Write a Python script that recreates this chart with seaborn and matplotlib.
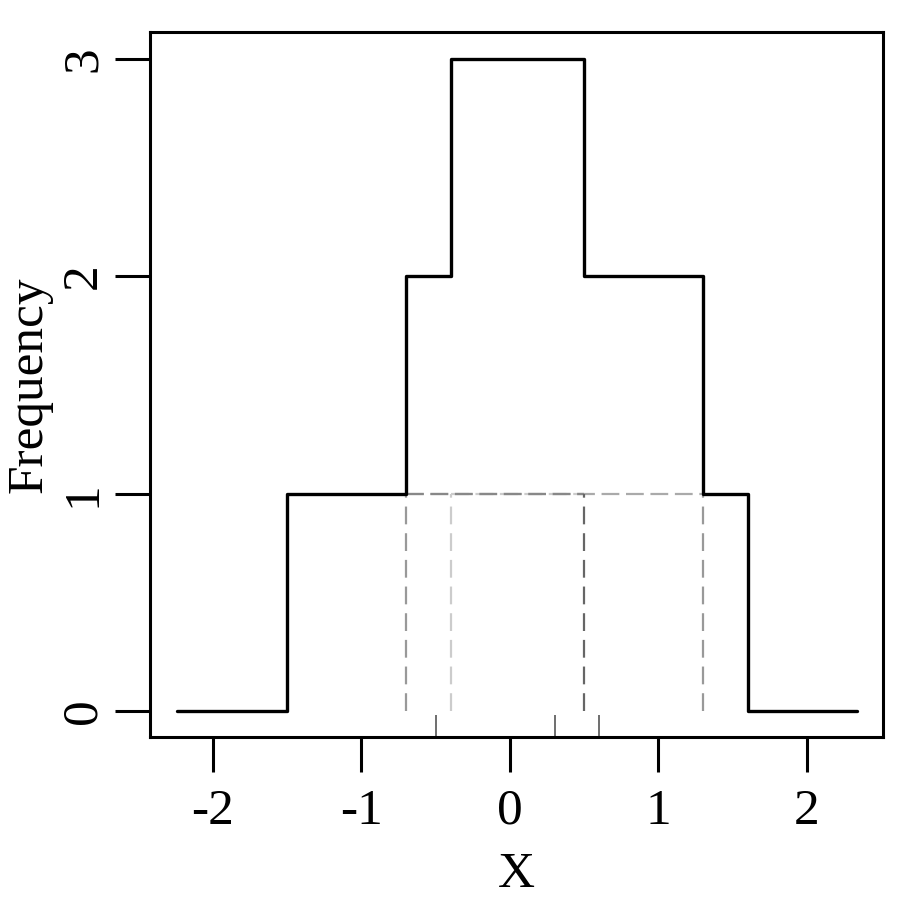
import matplotlib
matplotlib.use("Agg")
import matplotlib.pyplot as plt
import seaborn as sns
import pandas as pd

# Data
step_x = [-2.24, -1.5, -0.7, -0.4, 0.5, 1.3, 1.6, 2.34]
step_freq = [0, 1, 2, 3, 2, 1, 0, 0]
vline_x = [-0.7, -0.4, 0.5, 1.3]
vline_colors = ["#999999", "#cccccc", "#666666", "#999999"]
hseg_start = [-0.7, -0.4, -0.7]
hseg_end = [1.3, 0.5, 0.5]
hseg_colors = ["#aaaaaa", "#cccccc", "#888888"]
rug_x = [-0.5, 0.3, 0.6]

sns.set_style("white")
plt.rcParams["font.family"] = ["Liberation Serif", "DejaVu Serif"]
plt.rcParams["text.color"] = "black"
plt.rcParams["axes.labelcolor"] = "black"

fig = plt.figure(figsize=(9, 9), dpi=100)
ax = fig.add_axes([150/900, 1-737/900, (883-150)/900, (737-32)/900])

df = pd.DataFrame({"X": step_x, "Frequency": step_freq})
sns.lineplot(data=df, x="X", y="Frequency", drawstyle="steps-post", color="black",
             linewidth=2.4, ax=ax, sort=False)

for xs, xe, c in zip(hseg_start, hseg_end, hseg_colors):
    ax.plot([xs, xe], [1, 1], color=c, linestyle=(0, (8, 3)), linewidth=1.6, zorder=1)
for xv, c in zip(vline_x, vline_colors):
    ax.plot([xv, xv], [0, 1], color=c, linestyle=(0, (8, 4)), linewidth=1.6, zorder=1)

sns.rugplot(x=rug_x, height=0.031, color="#555555", linewidth=1.2, ax=ax)

ax.set_xlim(-2.424, 2.512)
ax.set_ylim(-0.12, 3.125)
ax.set_xticks([-2, -1, 0, 1, 2])
ax.set_xticklabels(["-2", "-1", "0", "1", "2"])
ax.set_yticks([0, 1, 2, 3])
ax.set_yticklabels(["0", "1", "2", "3"], rotation=90, va="center")
ax.tick_params(axis="both", which="both", direction="out", length=25, width=2.2,
               labelsize=37, colors="black", labelcolor="black", bottom=True, left=True, pad=6)
ax.tick_params(axis="x", pad=12)
for s in ax.spines.values():
    s.set_color("black")
    s.set_linewidth(2.2)
ax.set_xlabel("X", fontsize=37, labelpad=12, color="black")
ax.set_ylabel("Frequency", fontsize=37, labelpad=6, color="black")

fig.savefig("out.png", dpi=100)
